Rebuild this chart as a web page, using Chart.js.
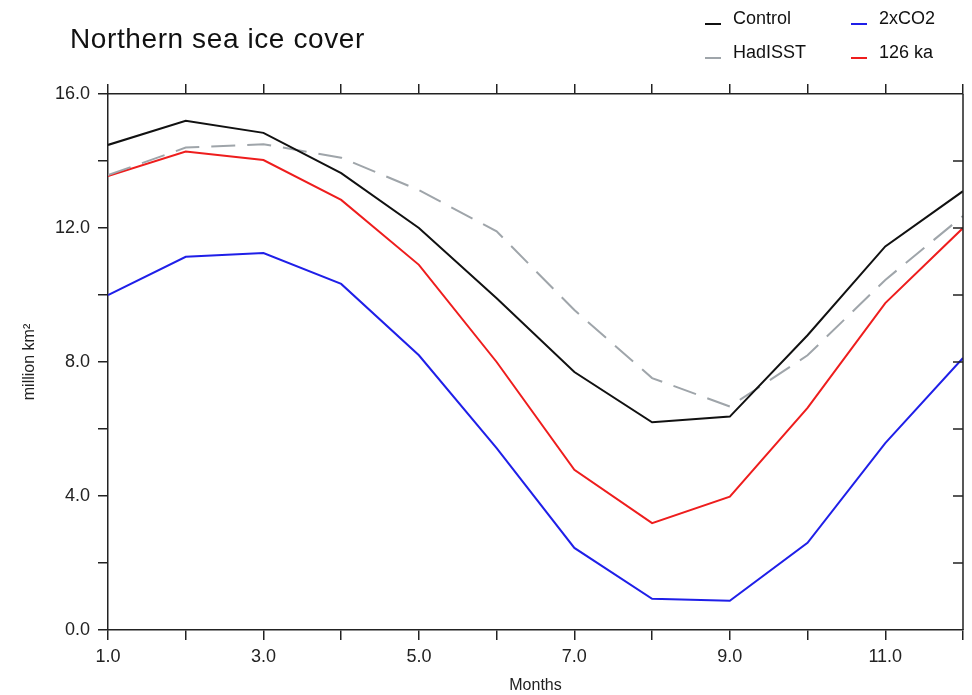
<!DOCTYPE html>
<html>
<head>
<meta charset="utf-8">
<script src="https://cdn.jsdelivr.net/npm/chart.js@4"></script>
<style>
	body { margin: 0; background: #fff; }
	#wrap { position: relative; width: 972px; height: 695px; font-family: 'Liberation Sans', Arial, sans-serif; }
	#title { position: absolute; left: 70px; top: 23px; font-size: 28px; letter-spacing: 0.6px; color: #111; }
	.leg { position: absolute; font-size: 18px; color: #111; white-space: nowrap; }
	.leg span { display: inline-block; width: 16px; height: 2px; margin-right: 12px; vertical-align: -1px; }
</style>
</head>
<body>
<div id="wrap">
	<canvas id="ice-chart" width="972" height="695"></canvas>
	<div id="title">Northern sea ice cover</div>
	<div id="legend"></div>
</div>
<script>
const months = [1, 2, 3, 4, 5, 6, 7, 8, 9, 10, 11, 12];

// million km2
const control = [14.48, 15.2, 14.84, 13.64, 12.0, 9.9, 7.7, 6.2, 6.37, 8.8, 11.45, 13.1];
const hadisst = [13.58, 14.4, 14.5, 14.1, 13.13, 11.9, 9.55, 7.52, 6.67, 8.2, 10.45, 12.36];
const co2x2 = [10.0, 11.14, 11.25, 10.33, 8.2, 5.43, 2.45, 0.93, 0.87, 2.6, 5.58, 8.12];
const ka126 = [13.55, 14.28, 14.03, 12.84, 10.9, 8.0, 4.78, 3.19, 3.98, 6.63, 9.76, 12.0];

const yTicksLabelled = [0, 4, 8, 12, 16];

const axisColor = '#222';
const fontFamily = "'Liberation Sans', Arial, sans-serif";

function toPoints(values) {
	return months.map((m, i) => ({ x: m, y: values[i] }));
}

const series = [
	{ label: 'Control', data: control, color: '#111111', dash: [] },
	{ label: 'HadISST', data: hadisst, color: '#9fa5aa', dash: [24, 12] },
	{ label: '2xCO2', data: co2x2, color: '#1f1fe8', dash: [] },
	{ label: '126 ka', data: ka126, color: '#ee1d1d', dash: [] },
];

const datasets = series.map((s) => ({
	label: s.label,
	data: toPoints(s.data),
	borderColor: s.color,
	backgroundColor: s.color,
	borderDash: s.dash,
	borderWidth: 2,
	pointRadius: 0,
	tension: 0,
	fill: false,
}));

// right axis: ticks point inwards, so drawn by hand
const rightFrame = {
	id: 'rightFrame',
	afterDraw(chart) {
		const { ctx, chartArea, scales } = chart;
		ctx.save();
		ctx.strokeStyle = axisColor;
		ctx.lineWidth = 1.5;
		ctx.beginPath();
		ctx.moveTo(chartArea.right, chartArea.top);
		ctx.lineTo(chartArea.right, chartArea.bottom);
		for (let v = 2; v < 16; v += 2) {
			const py = scales.y.getPixelForValue(v);
			ctx.moveTo(chartArea.right, py);
			ctx.lineTo(chartArea.right - 10, py);
		}
		ctx.stroke();
		ctx.restore();
	},
};

const gridDefault = {
	drawOnChartArea: false,
	tickLength: 10,
	color: axisColor,
	lineWidth: 1.5,
};

new Chart(document.getElementById('ice-chart'), {
	type: 'line',
	data: { datasets: datasets },
	plugins: [rightFrame],
	options: {
		responsive: false,
		animation: false,
		layout: { padding: { right: 9 } },
		plugins: {
			legend: { display: false },
			tooltip: { enabled: false },
		},
		scales: {
			x: {
				type: 'linear',
				position: 'bottom',
				min: 1,
				max: 12,
				grid: gridDefault,
				border: { color: axisColor, width: 1.5 },
				ticks: {
					stepSize: 1,
					autoSkip: false,
					maxRotation: 0,
					padding: 6,
					color: '#222',
					font: { family: fontFamily, size: 18 },
					callback: (val) => (val % 2 === 1 && val < 12 ? val.toFixed(1) : ''),
				},
				title: {
					display: true,
					text: 'Months',
					color: '#222',
					font: { family: fontFamily, size: 16 },
					padding: { top: 0, bottom: 0 },
				},
				afterFit: (scale) => { scale.height = 65; },
			},
			xTop: {
				type: 'linear',
				position: 'top',
				min: 1,
				max: 12,
				grid: gridDefault,
				border: { color: axisColor, width: 1.5 },
				ticks: { stepSize: 1, autoSkip: false, display: false },
				afterFit: (scale) => { scale.height = 94; },
			},
			y: {
				type: 'linear',
				position: 'left',
				min: 0,
				max: 16,
				grid: gridDefault,
				border: { color: axisColor, width: 1.5 },
				ticks: {
					stepSize: 2,
					autoSkip: false,
					padding: 8,
					color: '#222',
					font: { family: fontFamily, size: 18 },
					callback: (val) => (yTicksLabelled.includes(val) ? val.toFixed(1) : ''),
				},
				title: {
					display: true,
					text: 'million km²',
					color: '#222',
					font: { family: fontFamily, size: 16 },
					padding: { top: 20, bottom: 0 },
				},
				afterFit: (scale) => { scale.width = 108; },
			},
		},
	},
});

// legend in two columns, top right
const legend = document.getElementById('legend');
series.forEach((s, i) => {
	const col = Math.floor(i / 2);
	const row = i % 2;
	const item = document.createElement('div');
	item.className = 'leg';
	item.style.left = 705 + col * 146 + 'px';
	item.style.top = 8 + row * 34 + 'px';
	item.innerHTML = `<span style="background:${s.color}"></span>${s.label}`;
	legend.appendChild(item);
});
</script>
</body>
</html>
